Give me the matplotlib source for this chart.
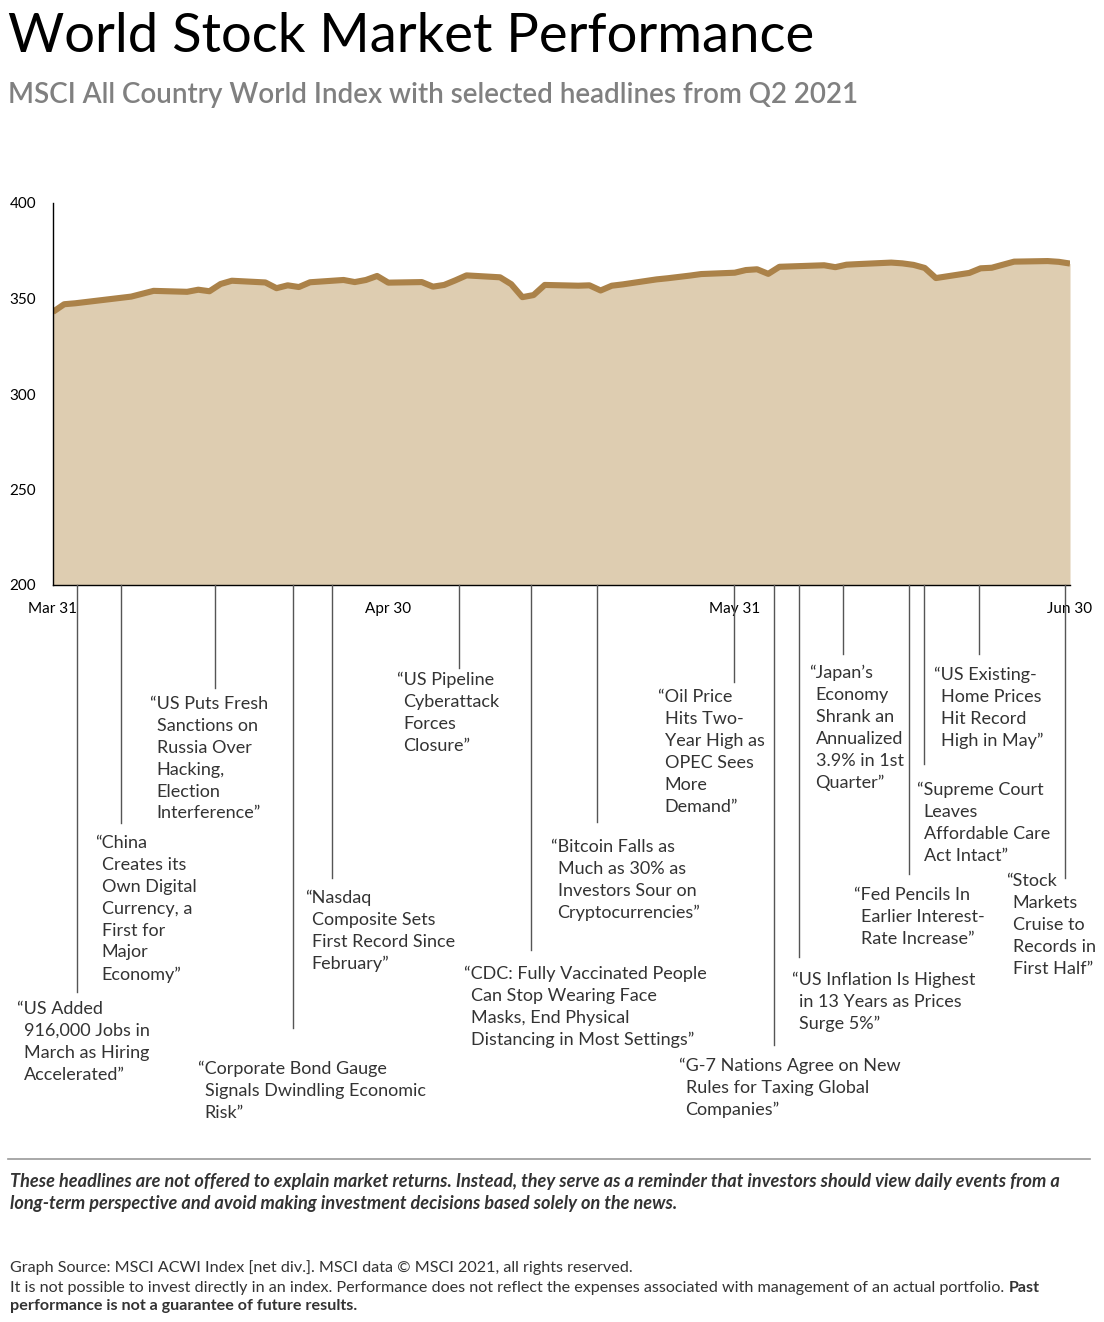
import matplotlib
matplotlib.use("Agg")
import matplotlib.pyplot as plt
import matplotlib.transforms as mtransforms
import pandas as pd

# ---------------- data ----------------
dates = ["2021-03-31", "2021-04-01", "2021-04-02", "2021-04-05", "2021-04-06", "2021-04-07",
         "2021-04-08", "2021-04-09", "2021-04-12", "2021-04-13", "2021-04-14", "2021-04-15",
         "2021-04-16", "2021-04-19", "2021-04-20", "2021-04-21", "2021-04-22", "2021-04-23",
         "2021-04-26", "2021-04-27", "2021-04-28", "2021-04-29", "2021-04-30", "2021-05-03",
         "2021-05-04", "2021-05-05", "2021-05-06", "2021-05-07", "2021-05-10", "2021-05-11",
         "2021-05-12", "2021-05-13", "2021-05-14", "2021-05-17", "2021-05-18", "2021-05-19",
         "2021-05-20", "2021-05-21", "2021-05-24", "2021-05-25", "2021-05-26", "2021-05-27",
         "2021-05-28", "2021-05-31", "2021-06-01", "2021-06-02", "2021-06-03", "2021-06-04",
         "2021-06-07", "2021-06-08", "2021-06-09", "2021-06-10", "2021-06-11", "2021-06-14",
         "2021-06-15", "2021-06-16", "2021-06-17", "2021-06-18", "2021-06-21", "2021-06-22",
         "2021-06-23", "2021-06-24", "2021-06-25", "2021-06-28", "2021-06-29", "2021-06-30"]
index_values = [343.0, 347.0, 347.5, 349.6, 350.3, 351.0,
                352.5, 354.0, 353.5, 354.6, 353.8, 357.6,
                359.3, 358.4, 355.4, 356.9, 356.0, 358.5,
                359.7, 358.6, 359.7, 361.8, 358.3, 358.6,
                356.2, 357.1, 359.5, 362.1, 361.1, 357.5,
                350.7, 351.8, 357.1, 356.7, 356.9, 354.2,
                356.7, 357.4, 360.0, 360.6, 361.3, 362.0,
                362.8, 363.5, 364.9, 365.3, 362.9, 366.6,
                367.2, 367.4, 366.4, 367.7, 368.0, 368.8,
                368.4, 367.6, 366.0, 360.7, 363.4, 365.8,
                366.1, 367.7, 369.3, 369.6, 369.2, 368.3]

x_tick_days = [0, 30, 61, 91]
x_tick_labels = ["Mar 31", "Apr 30", "May 31", "Jun 30"]
y_ticks = [200, 250, 300, 350, 400]

headlines = [
    "“US Added\n916,000 Jobs in\nMarch as Hiring\nAccelerated”",
    "“China\nCreates its\nOwn Digital\nCurrency, a\nFirst for\nMajor\nEconomy”",
    "“US Puts Fresh\nSanctions on\nRussia Over\nHacking,\nElection\nInterference”",
    "“Corporate Bond Gauge\nSignals Dwindling Economic\nRisk”",
    "“Nasdaq\nComposite Sets\nFirst Record Since\nFebruary”",
    "“US Pipeline\nCyberattack\nForces\nClosure”",
    "“CDC: Fully Vaccinated People\nCan Stop Wearing Face\nMasks, End Physical\nDistancing in Most Settings”",
    "“Bitcoin Falls as\nMuch as 30% as\nInvestors Sour on\nCryptocurrencies”",
    "“Oil Price\nHits Two-\nYear High as\nOPEC Sees\nMore\nDemand”",
    "“G-7 Nations Agree on New\nRules for Taxing Global\nCompanies”",
    "“US Inflation Is Highest\nin 13 Years as Prices\nSurge 5%”",
    "“Japan’s\nEconomy\nShrank an\nAnnualized\n3.9% in 1st\nQuarter”",
    "“Fed Pencils In\nEarlier Interest-\nRate Increase”",
    "“Supreme Court\nLeaves\nAffordable Care\nAct Intact”",
    "“US Existing-\nHome Prices\nHit Record\nHigh in May”",
    "“Stock\nMarkets\nCruise to\nRecords in\nFirst Half”",
]
# headline timing, in days after Mar 31
headline_days = [2.15, 6.08, 14.5, 21.47, 24.96, 36.33, 42.77, 48.68,
                 60.94, 64.51, 66.75, 70.69, 76.59, 77.94, 82.86, 90.55]

# ---------------- layout (pixels from top-left) ----------------
W, H = 1104, 1322
leader_end_px = [992, 823, 688, 1028, 878, 668, 950, 822, 682, 1045, 957, 654, 874, 764, 654, 878]
label_xy_px = [(17, 1009), (95, 843), (150, 704), (198, 1069), (305, 898), (397, 680),
               (464, 974), (551, 847), (658, 697), (679, 1066), (792, 980), (809, 673),
               (854, 895), (917, 790), (934, 675), (1006, 881)]
LINE_STEP = 21.9

FILL = "#DECDB1"
LINE = "#AB8249"
TXT = "#333333"
FONT = "Lato"
HEAD_FS = 13.0

plt.rcParams["font.family"] = [FONT, "DejaVu Sans"]

fig = plt.figure(figsize=(W / 100, H / 100), dpi=100)


def fx(px):
    return px / W


def fy(py):
    return 1 - py / H


ax = fig.add_axes([fx(53), fy(585), fx(1070) - fx(53), fy(203) - fy(585)])
days = (pd.to_datetime(dates) - pd.Timestamp("2021-03-31")).days.values
ax.fill_between(days, 200, index_values, color=FILL, lw=0, zorder=1)
ax.plot(days, index_values, color=LINE, lw=4.4, solid_joinstyle="round",
        solid_capstyle="butt", zorder=2)
ax.set_xlim(0, 91)
ax.set_ylim(200, 400)
for s in ["top", "right"]:
    ax.spines[s].set_visible(False)
for s in ["left", "bottom"]:
    ax.spines[s].set_color("black")
    ax.spines[s].set_linewidth(1.0)
ax.set_yticks(y_ticks)
ax.set_yticklabels([str(v) for v in y_ticks], fontsize=11, color="black")
ax.set_xticks(x_tick_days)
ax.set_xticklabels(x_tick_labels, fontsize=11, color="black")
ax.tick_params(axis="y", length=0, pad=12)
ax.tick_params(axis="x", length=0, pad=12.5)

# leader lines
trans = mtransforms.blended_transform_factory(ax.transData, fig.transFigure)
for d, yend in zip(headline_days, leader_end_px):
    ax.plot([d, d], [fy(585), fy(yend)], transform=trans, clip_on=False,
            color="#555555", lw=1.0, zorder=3)

# headline texts with hanging open-quote
renderer = fig.canvas.get_renderer()
qt = fig.text(0, 0, "“", fontsize=HEAD_FS, family=FONT)
qw = qt.get_window_extent(renderer).width
qt.remove()
for text, (px, py) in zip(headlines, label_xy_px):
    lines = text.split("\n")
    for i, ln in enumerate(lines):
        xx = px if i == 0 else px + qw
        fig.text(fx(xx), fy(py + i * LINE_STEP), ln, fontsize=HEAD_FS, color=TXT,
                 ha="left", va="center", family=FONT)

# titles
fig.text(fx(8), fy(52), "World Stock Market Performance", fontsize=39.2,
         color="black", ha="left", va="baseline", family=FONT)
fig.text(fx(8), fy(103), "MSCI All Country World Index with selected headlines from Q2 2021",
         fontsize=20, fontweight="semibold", color="#808080", ha="left", va="baseline", family=FONT)

# footer
fig.add_artist(plt.Line2D([fx(8), fx(1090)], [fy(1159), fy(1159)], color="#999999", lw=1.2))
fig.text(fx(10), fy(1182), "These headlines are not offered to explain market returns. Instead, they serve as a reminder that investors should view daily events from a",
         fontsize=13.1, fontweight="bold", fontstyle="italic", color=TXT, va="center", family=FONT)
fig.text(fx(10), fy(1204), "long-term perspective and avoid making investment decisions based solely on the news.",
         fontsize=13.1, fontweight="bold", fontstyle="italic", color=TXT, va="center", family=FONT)
fig.text(fx(10), fy(1268), "Graph Source: MSCI ACWI Index [net div.]. MSCI data © MSCI 2021, all rights reserved.",
         fontsize=11.6, color=TXT, va="center", family=FONT)
t1 = fig.text(fx(10), fy(1288), "It is not possible to invest directly in an index. Performance does not reflect the expenses associated with management of an actual portfolio. ",
              fontsize=11.6, color=TXT, va="center", family=FONT)
bb = t1.get_window_extent(renderer)
fig.text(bb.x1 / W, fy(1288), "Past", fontsize=11.6, fontweight="bold", color=TXT,
         va="center", family=FONT)
fig.text(fx(10), fy(1306), "performance is not a guarantee of future results.",
         fontsize=11.6, fontweight="bold", color=TXT, va="center", family=FONT)

fig.savefig("out.png", dpi=100)
